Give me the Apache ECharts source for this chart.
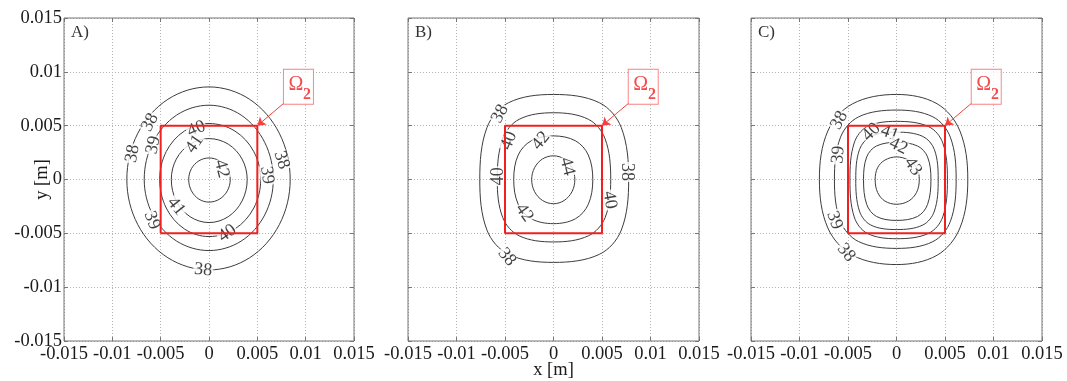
<!DOCTYPE html>
<html>
<head>
<meta charset="utf-8">
<script src="https://cdn.jsdelivr.net/npm/echarts@6/dist/echarts.min.js"></script>
<style>
html, body { margin: 0; padding: 0; background: #fff; }
#chart { width: 1067px; height: 381px; }
</style>
</head>
<body>
<div id="chart"></div>
<script>
// Axis ticks, in metres
const tickValues = [-0.015, -0.01, -0.005, 0, 0.005, 0.01, 0.015];
const tickLabels = ['-0.015', '-0.01', '-0.005', '0', '0.005', '0.01', '0.015'];
const panelNames = ['A)', 'B)', 'C)'];

// Heated region Omega_2: square of half-width 5 mm (corners in mm)
const omegaSquare = [[-5, -5], [5, -5], [5, 5], [-5, 5], [-5, -5]];

// Isotherm outlines per panel, points in mm going round each closed curve
const levelsA = [38, 39, 40, 41, 42];
const contoursA = [
  [[8.4,0],[7.27,4.3],[4.2,7.45],[0,8.6],[-4.25,7.45],[-7.36,4.3],[-8.5,0],[-7.36,-4.2],[-4.25,-7.27],[0,-8.4],[4.2,-7.27],[7.27,-4.2]],
  [[6.65,0],[5.76,3.45],[3.33,5.98],[0,6.9],[-3.35,5.98],[-5.8,3.45],[-6.7,0],[-5.8,-3.3],[-3.35,-5.72],[0,-6.6],[3.33,-5.72],[5.76,-3.3]],
  [[5.35,0],[4.63,2.6],[2.68,4.5],[0,5.2],[-2.55,4.5],[-4.42,2.6],[-5.1,0],[-4.42,-2.65],[-2.55,-4.59],[0,-5.3],[2.68,-4.59],[4.63,-2.65]],
  [[3.95,0],[3.42,1.9],[1.98,3.29],[0,3.8],[-1.95,3.29],[-3.38,1.9],[-3.9,0],[-3.38,-2.0],[-1.95,-3.46],[0,-4.0],[1.98,-3.46],[3.42,-2.0]],
  [[2.2,0],[1.9,1.0],[1.1,1.73],[0,2.0],[-1.05,1.73],[-1.82,1.0],[-2.1,0],[-1.82,-1.05],[-1.05,-1.82],[0,-2.1],[1.1,-1.82],[1.9,-1.05]]
];
const levelsB = [38, 40, 42, 44];
const contoursB = [
  [[7.75,0],[6.99,4.82],[4.73,7.13],[0,7.9],[-4.64,7.13],[-6.86,4.82],[-7.6,0],[-6.86,-4.7],[-4.64,-6.95],[0,-7.7],[4.73,-6.95],[6.99,-4.7]],
  [[5.9,0],[5.32,3.78],[3.6,5.59],[0,6.2],[-3.54,5.59],[-5.23,3.78],[-5.8,0],[-5.23,-3.54],[-3.54,-5.23],[0,-5.8],[3.6,-5.23],[5.32,-3.54]],
  [[4.05,0],[3.59,2.27],[2.27,3.59],[0,4.05],[-2.3,3.59],[-3.64,2.27],[-4.1,0],[-3.64,-2.3],[-2.3,-3.64],[0,-4.1],[2.27,-3.64],[3.59,-2.3]],
  [[2.2,0],[1.91,1.1],[1.1,1.91],[0,2.2],[-1.13,1.91],[-1.95,1.1],[-2.25,0],[-1.95,-1.13],[-1.13,-1.95],[0,-2.25],[1.1,-1.95],[1.91,-1.13]]
];
const levelsC = [38, 39, 40, 41, 42, 43];
const contoursC = [
  [[7.35,0],[6.54,4.5],[4.19,7.03],[0,7.9],[-4.53,7.03],[-7.08,4.5],[-7.95,0],[-7.08,-4.5],[-4.53,-7.03],[0,-7.9],[4.19,-7.03],[6.54,-4.5]],
  [[6.15,0],[5.55,3.93],[3.75,5.82],[0,6.45],[-3.9,5.82],[-5.77,3.93],[-6.4,0],[-5.77,-3.9],[-3.9,-5.77],[0,-6.4],[3.75,-5.77],[5.55,-3.9]],
  [[5.25,0],[4.77,3.4],[3.31,4.91],[0,5.4],[-3.02,4.91],[-4.36,3.4],[-4.8,0],[-4.36,-3.47],[-3.02,-5.0],[0,-5.5],[3.31,-5.0],[4.77,-3.47]],
  [[4.3,0],[3.91,2.77],[2.71,4.0],[0,4.4],[-2.65,4.0],[-3.82,2.77],[-4.2,0],[-3.82,-2.93],[-2.65,-4.23],[0,-4.65],[2.71,-4.23],[3.91,-2.93]],
  [[3.55,0],[3.2,2.1],[2.17,3.11],[0,3.45],[-2.07,3.11],[-3.07,2.1],[-3.4,0],[-3.07,-2.32],[-2.07,-3.43],[0,-3.8],[2.17,-3.43],[3.2,-2.32]],
  [[2.35,0],[2.07,1.1],[1.25,1.8],[0,2.1],[-1.2,1.8],[-1.95,1.1],[-2.2,0],[-1.95,-1.2],[-1.2,-2.0],[0,-2.3],[1.25,-2.0],[2.07,-1.2]]
];

// Inline contour labels: [x mm, y mm, rotation deg, text]
const labelsA = [
  [-6.1, 5.3, 62, '38'], [-7.9, 2.4, 80, '38'], [-5.75, 3.2, 78, '39'],
  [-1.3, 4.7, 22, '40'], [-1.5, 3.3, 55, '41'], [1.3, 1.0, -75, '42'],
  [7.5, 1.8, -72, '38'], [6.0, 0.4, -82, '39'], [-3.4, -2.5, -52, '41'],
  [-5.9, -3.8, -68, '39'], [1.9, -5.0, 35, '40'], [-0.6, -8.4, -5, '38']
];
const labelsB = [
  [-5.5, 6.1, 62, '38'], [-4.6, 3.6, 68, '40'], [-1.3, 3.6, 50, '42'],
  [1.4, 1.2, -75, '44'], [-5.7, 0.3, 90, '40'], [7.6, 0.7, -90, '38'],
  [5.8, -1.9, -80, '40'], [-3.0, -3.1, -55, '42'], [-4.8, -7.2, -50, '38']
];
const labelsC = [
  [-5.9, 5.5, 62, '38'], [-6.0, 2.3, 85, '39'], [-2.6, 4.4, 45, '40'],
  [-0.7, 4.3, -20, '41'], [0.2, 3.1, -25, '42'], [1.7, 1.2, -55, '43'],
  [-6.4, -3.8, -70, '39'], [-5.2, -6.8, -50, '38']
];

// Omega_2 callout (mm): box centre, symbol centre, subscript centre, arrow start
const calloutBox = [9.25, 8.62];
const calloutOmega = [9.0, 8.8];
const calloutSub = [10.15, 7.9];
const arrowFrom = [7.76, 7.1];

const panelContours = [contoursA, contoursB, contoursC];
const panelLabels = [labelsA, labelsB, labelsC];

const grids = [
  { left: 64, top: 18, width: 290, height: 323 },
  { left: 408, top: 18, width: 291, height: 323 },
  { left: 751, top: 18, width: 291, height: 323 }
];

const mm = (p) => [p[0] / 1000, p[1] / 1000];
const serif = 'Liberation Serif';
const tickFmt = (v) => {
  const i = tickValues.findIndex((t) => Math.abs(t - v) < 1e-9);
  return i < 0 ? '' : tickLabels[i];
};
const tickStyle = { show: true, inside: true, length: 4, lineStyle: { color: '#777' } };
const gridLineStyle = { show: true, lineStyle: { color: '#b4b4b4', type: [1, 2], width: 1 } };

const xAxes = [], yAxes = [], series = [], titles = [];

grids.forEach((g, i) => {
  const common = {
    gridIndex: i, type: 'value', min: -0.015, max: 0.015, interval: 0.005,
    axisLine: { show: false, onZero: false }, axisTick: tickStyle
  };
  xAxes.push(Object.assign({}, common, {
    position: 'bottom',
    axisLabel: { show: true, fontFamily: serif, fontSize: 18.5, color: '#1a1a1a', margin: 4, formatter: tickFmt },
    splitLine: gridLineStyle,
    name: i === 1 ? 'x [m]' : '',
    nameLocation: 'middle', nameGap: 20, nameMoveOverlap: false,
    nameTextStyle: { fontFamily: serif, fontSize: 18.5, color: '#1a1a1a' }
  }));
  xAxes.push(Object.assign({}, common, {
    position: 'top', axisLabel: { show: false }, splitLine: { show: false }
  }));
  yAxes.push(Object.assign({}, common, {
    position: 'left',
    axisLabel: { show: i === 0, fontFamily: serif, fontSize: 18.5, color: '#1a1a1a', margin: 2, formatter: tickFmt },
    splitLine: gridLineStyle,
    name: i === 0 ? 'y [m]' : '',
    nameLocation: 'middle', nameGap: 12, nameMoveOverlap: false,
    nameTextStyle: { fontFamily: serif, fontSize: 18.5, color: '#1a1a1a' }
  }));
  yAxes.push(Object.assign({}, common, {
    position: 'right', axisLabel: { show: false }, splitLine: { show: false }
  }));

  titles.push({
    text: panelNames[i], left: g.left + 7, top: 24, padding: 0,
    textStyle: { fontFamily: serif, fontSize: 17, fontWeight: 'normal', color: '#333' }
  });

  const ax = { xAxisIndex: i * 2, yAxisIndex: i * 2 };
  const contours = panelContours[i];

  // isotherms as closed smooth curves
  series.push(Object.assign({}, ax, {
    type: 'custom', coordinateSystem: 'cartesian2d', silent: true, z: 2,
    data: contours.map(() => [0, 0]),
    renderItem: (params, api) => {
      const pts = contours[params.dataIndex].map((p) => api.coord(mm(p)));
      return {
        type: 'polygon',
        shape: { points: pts, smooth: 0.35 },
        style: { fill: 'none', stroke: '#3c3c3c', lineWidth: 1 }
      };
    }
  }));

  // inline level labels
  series.push(Object.assign({}, ax, {
    type: 'scatter', silent: true, z: 3, symbolSize: 1,
    itemStyle: { color: 'transparent' },
    data: panelLabels[i].map((l) => ({
      value: mm(l),
      label: { rotate: l[2], formatter: l[3] }
    })),
    label: {
      show: true, position: 'inside', fontFamily: serif, fontSize: 18, color: '#111',
      backgroundColor: '#fff', padding: [0, 1], lineHeight: 14
    }
  }));

  // Omega_2 square with arrow
  series.push(Object.assign({}, ax, {
    type: 'line', silent: true, z: 6, symbol: 'none',
    data: omegaSquare.map(mm),
    lineStyle: { color: '#f02020', width: 2 },
    markLine: {
      silent: true, symbol: ['none', 'arrow'], symbolSize: 8,
      label: { show: false },
      lineStyle: { color: '#f34040', width: 1, type: 'solid' },
      data: [[{ coord: mm(arrowFrom) }, { coord: mm([5, 5]) }]]
    }
  }));

  // callout box
  series.push(Object.assign({}, ax, {
    type: 'scatter', silent: true, z: 7, symbol: 'rect', symbolSize: [30, 35],
    itemStyle: { color: '#fff', borderColor: '#f56060', borderWidth: 1 },
    data: [mm(calloutBox)]
  }));
  series.push(Object.assign({}, ax, {
    type: 'scatter', silent: true, z: 8, symbolSize: 1, itemStyle: { color: 'transparent' },
    data: [
      { value: mm(calloutOmega), label: { formatter: 'Ω', fontSize: 20, fontWeight: 'normal' } },
      { value: mm(calloutSub), label: { formatter: '2', fontSize: 16, fontWeight: 'bold' } }
    ],
    label: { show: true, position: 'inside', fontFamily: serif, color: '#f02020' }
  }));
});

const chart = echarts.init(document.getElementById('chart'), null, { renderer: 'canvas' });
chart.setOption({
  animation: false,
  backgroundColor: '#fff',
  title: titles,
  grid: grids.map((g) => Object.assign({}, g, {
    show: true, borderColor: '#777', borderWidth: 1, backgroundColor: 'transparent', z: 5,
    containLabel: false, outerBoundsMode: 'none'
  })),
  xAxis: xAxes,
  yAxis: yAxes,
  series: series
});
</script>
</body>
</html>
